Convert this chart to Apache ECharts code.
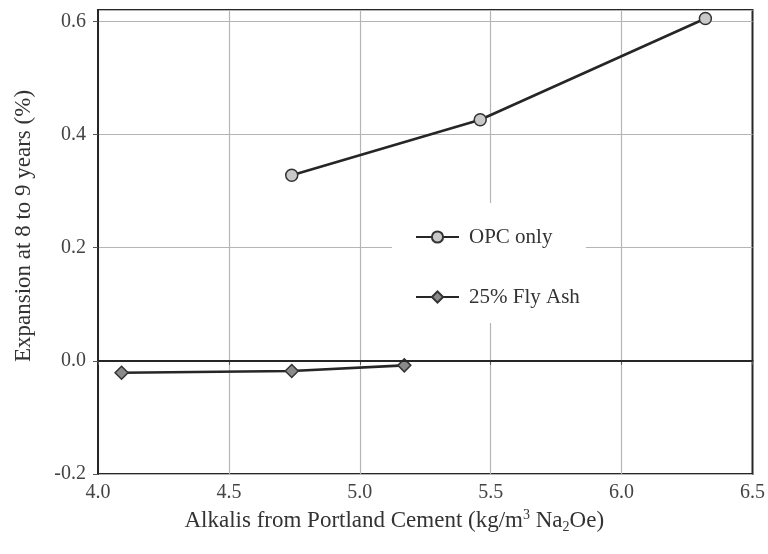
<!DOCTYPE html>
<html>
<head>
<meta charset="utf-8">
<script src="https://cdn.jsdelivr.net/npm/echarts@6/dist/echarts.min.js"></script>
<style>
  html, body { margin: 0; padding: 0; background: #fff; }
  #chart { width: 768px; height: 554px; }
</style>
</head>
<body>
<div id="chart"></div>
<script>
// values
var opcAlkali = [4.74, 5.46, 6.32];
var opcExpansion = [0.328, 0.426, 0.605];
var flyAshAlkali = [4.09, 4.74, 5.17];
var flyAshExpansion = [-0.021, -0.018, -0.008];
var xTicks = [4.0, 4.5, 5.0, 5.5, 6.0, 6.5];
var yTicks = [-0.2, 0.0, 0.2, 0.4, 0.6];

function pairs(xs, ys) {
  var out = [];
  for (var i = 0; i < xs.length; i++) {
    out.push([xs[i], ys[i]]);
  }
  return out;
}

var chart = echarts.init(document.getElementById('chart'));
var serif = '"Liberation Serif", "DejaVu Serif", serif';
var dark = '#262626';

var option = {
  backgroundColor: '#fff',
  textStyle: { fontFamily: serif },
  grid: {
    left: 98, right: 14, top: 10, bottom: 80,
    show: true, borderColor: dark, borderWidth: 2, backgroundColor: 'transparent'
  },
  legend: {
    orient: 'vertical',
    left: 392,
    top: 203,
    backgroundColor: '#fff',
    padding: [22, 6, 14, 23],
    itemWidth: 43,
    itemHeight: 14,
    itemGap: 36,
    textStyle: { fontFamily: serif, fontSize: 21, lineHeight: 24, color: '#333', padding: [0, 0, 0, 5] },
    data: ['OPC only', '25% Fly Ash']
  },
  xAxis: {
    type: 'value',
    min: xTicks[0],
    max: xTicks[xTicks.length - 1],
    interval: 0.5,
    name: '{n|Alkalis from Portland Cement (kg/m}{sup|3}{n| Na}{sub|2}{n|Oe)}',
    nameLocation: 'middle',
    nameGap: 29,
    nameTextStyle: {
      padding: [0, 62, 0, 0],
      rich: {
        n: { fontFamily: serif, fontSize: 23, color: '#333', lineHeight: 26 },
        sup: { fontFamily: serif, fontSize: 14, color: '#333', verticalAlign: 'top' },
        sub: { fontFamily: serif, fontSize: 14, color: '#333', verticalAlign: 'bottom' }
      }
    },
    axisLine: { show: true, lineStyle: { color: dark, width: 2 } },
    axisTick: { show: true, length: 4, inside: false, lineStyle: { color: '#555' } },
    axisLabel: {
      fontFamily: serif, fontSize: 20, color: '#444', margin: 9,
      formatter: function (v) { return v.toFixed(1); }
    },
    splitLine: { show: true, showMaxLine: false, lineStyle: { color: '#b5b5b5', width: 1.2 } }
  },
  yAxis: {
    type: 'value',
    min: yTicks[0],
    max: 0.62,
    interval: 0.2,
    name: 'Expansion at 8 to 9 years (%)',
    nameLocation: 'middle',
    nameGap: 63,
    nameTextStyle: { fontFamily: serif, fontSize: 23, color: '#333', padding: [0, 0, 0, 32] },
    axisLine: { show: true, lineStyle: { color: dark, width: 2 } },
    axisTick: { show: true, length: 5, lineStyle: { color: '#555' } },
    axisLabel: {
      fontFamily: serif, fontSize: 20, color: '#444', margin: 12,
      showMaxLabel: false,
      formatter: function (v) {
        if (Math.abs(v - 0.62) < 1e-6) return '';
        return v.toFixed(1);
      }
    },
    splitLine: { show: true, lineStyle: { color: '#b5b5b5', width: 1.2 } }
  },
  series: [
    {
      name: 'OPC only',
      type: 'line',
      data: pairs(opcAlkali, opcExpansion),
      symbol: 'circle',
      symbolSize: 12,
      lineStyle: { color: dark, width: 2.6 },
      itemStyle: { color: '#c9c9c9', borderColor: '#333', borderWidth: 1.5 },
      z: 4
    },
    {
      name: '25% Fly Ash',
      type: 'line',
      data: pairs(flyAshAlkali, flyAshExpansion),
      symbol: 'diamond',
      symbolSize: 13,
      lineStyle: { color: dark, width: 2.6 },
      itemStyle: { color: '#8a8a8a', borderColor: '#333', borderWidth: 1.5 },
      markLine: {
        silent: true,
        symbol: 'none',
        label: { show: false },
        lineStyle: { color: dark, width: 2, type: 'solid' },
        data: [{ yAxis: 0 }]
      },
      z: 4
    }
  ]
};

chart.setOption(option);
</script>
</body>
</html>
